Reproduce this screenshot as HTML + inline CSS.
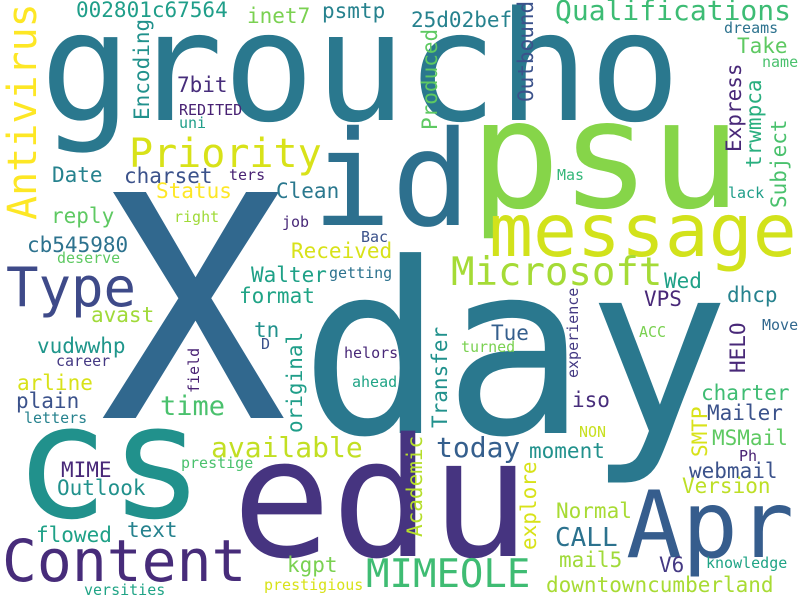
<!DOCTYPE html>
<html><head><meta charset="utf-8"><style>
html,body{margin:0;padding:0;background:#fff;}
svg{display:block;}
text{font-family:"DejaVu Sans Mono","Liberation Mono",monospace;}
</style></head><body>
<svg id="cloud" width="800" height="600" viewBox="0 0 800 600" xmlns="http://www.w3.org/2000/svg">
<rect width="800" height="600" fill="#ffffff"/>
<g id="words"></g>
</svg>
<script>
const words = ["groucho","psu","id","X","day","cs","edu","Apr","message","Microsoft","Qualifications","Type","Content","MIMEOLE","Priority","002801c67564","inet7","psmtp","25d02bef","Take","dreams","name","Mas","lack","Wed","dhcp","VPS","ACC","Move","Tue","turned","iso","charter","Mailer","NON","MSMail","Ph","today","moment","webmail","Version","Normal","CALL","mail5","V6","knowledge","downtowncumberland","7bit","REDITED","uni","Date","charset","ters","Status","Clean","reply","right","job","cb545980","Bac","Received","deserve","Walter","getting","format","avast","tn","vudwwhp","D","career","helors","arline","ahead","plain","time","letters","available","MIME","prestige","Outlook","flowed","text","kgpt","versities","prestigious"];
const xs = [40,470,312,100,300,14,232,626,489,451,555,6,2,366,129,76,247,322,411,737,724,762,557,728,664,727,644,639,762,491,461,572,701,707,579,712,739,436,529,689,682,556,555,559,659,706,546,177,179,179,52,124,229,156,276,51,174,282,27,361,291,57,251,329,239,91,254,37,261,56,344,17,352,16,160,24,211,61,181,57,36,127,287,84,264];
const ys = [120,207,225,418,433,517,556,557,256,285,20,306,581,587,167,17,23,18,27,53,33,67,180,198,288,302,306,337,330,340,352,407,400,420,437,445,461,457,458,478,493,518,546,567,572,568,592,92,115,128,182,183,180,198,198,223,222,227,252,242,258,263,282,278,303,322,337,353,349,366,358,390,387,408,415,423,457,477,468,495,542,537,572,595,590];
const sizes = [152,150,132,310,238,158,165,93,73,39,28,54,58,39,40,21,21,21,21,21,15,15,15,15,21,21,21,15,15,21,15,21,21,21,15,21,15,28,21,21,21,21,26,21,21,15,21,21,15,15,21,21,15,21,21,21,15,15,21,15,21,15,21,15,21,21,21,21,15,15,15,21,15,21,27,15,28,21,15,21,21,21,21,15,15];
const colors = ["#2a788e","#86d549","#2d708e","#31688e","#2a788e","#21918c","#463480","#365d8d","#d2e21b","#a5db36","#3dbc74","#3e4a89","#472c7a","#3fbc73","#d8e219","#1f9e89","#7ad151","#26828e","#26828e","#5ec962","#2c728e","#4ac16d","#35b779","#1f9e89","#1fa187","#26828e","#482878","#7ad151","#31688e","#355f8d","#7ad151","#472d7b","#3fbc73","#3b528b","#c8e020","#5ec962","#482173","#355f8d","#21918c","#3b528b","#bddf26","#a8db34","#2c728e","#a0da39","#443983","#20a486","#a8db34","#472d7b","#482173","#1f9e89","#26828e","#3b528b","#482173","#fde725","#2a788e","#5ec962","#a0da39","#482878","#2c728e","#3b528b","#d8e219","#5ec962","#1fa187","#2c728e","#20a486","#a0da39","#21918c","#1f968b","#3b528b","#443983","#482878","#d8e219","#20a486","#3b528b","#4ac16d","#26828e","#c2df23","#482878","#4ac16d","#21918c","#1fa187","#26828e","#7ad151","#20a486","#d8e219"];
const vWords = ["Antivirus","Encoding","Produced","Outbound","Express","trwmpca","Subject","experience","HELO","Transfer","SMTP","Academic","explore","field","original"];
const vXs = [36,149,437,533,741,761,786,578,745,447,707,422,536,199,302];
const vYs = [220,120,130,102,152,168,208,378,373,428,457,537,550,393,433];
const vSizes = [40,21,21,21,21,21,21,15,21,21,21,21,21,15,21];
const vColors = ["#fde725","#21918c","#5ec962","#3b528b","#482878","#29af7f","#4ac16d","#443a83","#482878","#21918c","#d8e219","#b5de2b","#d8e219","#482173","#1f9e89"];

const NS = "http://www.w3.org/2000/svg";
const g = document.getElementById("words");
function slug(w){return "word-" + w.toLowerCase().replace(/[^a-z0-9]+/g,"-");}
for (let i = 0; i < words.length; i++) {
  const t = document.createElementNS(NS, "text");
  t.setAttribute("x", xs[i]);
  t.setAttribute("y", ys[i]);
  t.setAttribute("font-size", sizes[i]);
  t.setAttribute("fill", colors[i]);
  t.textContent = words[i];
  
  
  g.appendChild(t);
}
for (let i = 0; i < vWords.length; i++) {
  const t = document.createElementNS(NS, "text");
  t.setAttribute("transform", "translate(" + vXs[i] + "," + vYs[i] + ") rotate(-90)");
  t.setAttribute("font-size", vSizes[i]);
  t.setAttribute("fill", vColors[i]);
  t.textContent = vWords[i];
  
  
  g.appendChild(t);
}
</script>
</body></html>
